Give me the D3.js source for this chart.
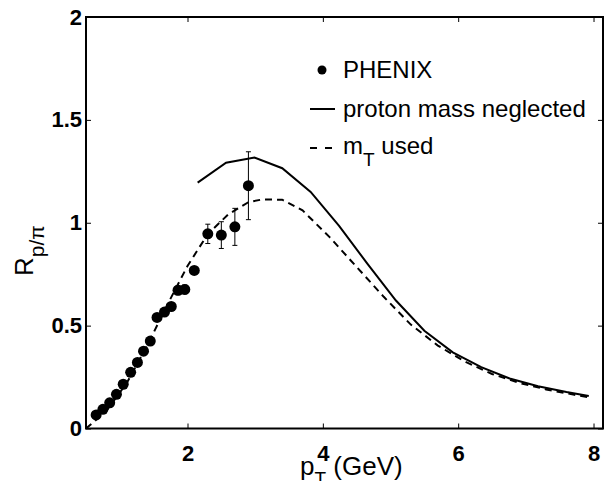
<!DOCTYPE html>
<html>
<head>
<meta charset="utf-8">
<script src="https://cdn.jsdelivr.net/npm/d3@7"></script>
<style>
  body { margin: 0; background: #fff; }
  text { font-family: "Liberation Sans", Arial, sans-serif; fill: #000; }
</style>
</head>
<body>
<div id="chart"></div>
<script>
// PHENIX p/pi ratio data
var phenixPt  = [0.65, 0.75, 0.85, 0.95, 1.05, 1.16, 1.26, 1.35, 1.45, 1.55, 1.66, 1.76, 1.86, 1.96, 2.10, 2.30, 2.50, 2.70, 2.90];
var phenixR   = [0.066, 0.093, 0.125, 0.166, 0.215, 0.273, 0.321, 0.376, 0.425, 0.54, 0.566, 0.593, 0.672, 0.676, 0.768, 0.946, 0.94, 0.98, 1.18];
var phenixErr = [0, 0, 0, 0, 0, 0, 0, 0, 0, 0, 0, 0.012, 0.022, 0.022, 0.015, 0.047, 0.065, 0.09, 0.165];

// model: proton mass neglected
var massNegPt = [2.15, 2.57, 2.99, 3.40, 3.82, 4.24, 4.66, 5.08, 5.50, 5.92, 6.34, 6.76, 7.18, 7.60, 7.93];
var massNegR  = [1.195, 1.292, 1.317, 1.265, 1.150, 0.985, 0.800, 0.622, 0.475, 0.370, 0.298, 0.243, 0.205, 0.177, 0.158];

// model: m_T used
var mtPt = [0.5, 0.8, 1.1, 1.4, 1.7, 2.0, 2.3, 2.6, 2.9, 3.1, 3.4, 3.7, 4.1, 4.5, 4.9, 5.3, 5.7, 6.1, 6.5, 6.9, 7.3, 7.7, 7.93];
var mtR  = [0, 0.085, 0.22, 0.40, 0.60, 0.79, 0.945, 1.04, 1.10, 1.113, 1.112, 1.06, 0.93, 0.785, 0.64, 0.505, 0.403, 0.325, 0.265, 0.222, 0.19, 0.165, 0.152];

var xTicks = [2, 4, 6, 8];
var yTicks = [0, 0.5, 1, 1.5, 2];

var width = 606, height = 481;
var m = { left: 86, right: 603, top: 17, bottom: 428.5 };

var svg = d3.select("#chart").append("svg")
    .attr("width", width)
    .attr("height", height);

var x = d3.scaleLinear().domain([0.5, 8.14]).range([m.left, m.right]);
var y = d3.scaleLinear().domain([0, 2]).range([m.bottom, m.top]);

// axes, ticks point inward
var xAxis = svg.append("g")
    .attr("transform", "translate(0," + m.bottom + ")")
    .call(d3.axisBottom(x).tickValues(xTicks).tickSizeInner(-5).tickSizeOuter(0).tickPadding(17).tickFormat(d3.format("")));
var yAxis = svg.append("g")
    .attr("transform", "translate(" + m.left + ",0)")
    .call(d3.axisLeft(y).tickValues(yTicks).tickSizeInner(-5).tickSizeOuter(0).tickPadding(4).tickFormat(d3.format("")));
var xTop = svg.append("g")
    .attr("transform", "translate(0," + m.top + ")")
    .call(d3.axisTop(x).tickValues(xTicks).tickSizeInner(-5).tickSizeOuter(0).tickFormat(""));
var yRight = svg.append("g")
    .attr("transform", "translate(" + m.right + ",0)")
    .call(d3.axisRight(y).tickValues(yTicks).tickSizeInner(-5).tickSizeOuter(0).tickFormat(""));

[xAxis, yAxis, xTop, yRight].forEach(function(a) {
  a.select(".domain").remove();
  a.selectAll(".tick line").attr("stroke", "#000").attr("stroke-width", 1);
  a.selectAll(".tick text")
      .style("font-family", "'Liberation Sans', Arial, sans-serif")
      .style("font-size", "22px")
      .style("font-weight", "bold")
      .attr("fill", "#000");
});

// frame
svg.append("rect")
    .attr("x", m.left).attr("y", m.top)
    .attr("width", m.right - m.left).attr("height", m.bottom - m.top)
    .attr("fill", "none")
    .attr("stroke", "#000")
    .attr("stroke-width", 2);

var line = d3.line()
    .x(function(d) { return x(d[0]); })
    .y(function(d) { return y(d[1]); });

svg.append("path")
    .datum(d3.zip(massNegPt, massNegR))
    .attr("d", line)
    .attr("fill", "none")
    .attr("stroke", "#000")
    .attr("stroke-width", 2);

svg.append("path")
    .datum(d3.zip(mtPt, mtR))
    .attr("d", line)
    .attr("fill", "none")
    .attr("stroke", "#000")
    .attr("stroke-width", 2)
    .attr("stroke-dasharray", "7,5");

// error bars
var pts = d3.range(phenixPt.length).map(function(i) {
  return { x: phenixPt[i], y: phenixR[i], e: phenixErr[i] };
});
var errs = svg.append("g").selectAll("g")
    .data(pts.filter(function(d) { return d.e > 0; }))
    .enter().append("g")
    .attr("stroke", "#000")
    .attr("stroke-width", 1);
errs.append("line")
    .attr("x1", function(d) { return x(d.x); })
    .attr("x2", function(d) { return x(d.x); })
    .attr("y1", function(d) { return y(d.y - d.e); })
    .attr("y2", function(d) { return y(d.y + d.e); });
errs.append("line")
    .attr("x1", function(d) { return x(d.x) - 2.5; })
    .attr("x2", function(d) { return x(d.x) + 2.5; })
    .attr("y1", function(d) { return y(d.y - d.e); })
    .attr("y2", function(d) { return y(d.y - d.e); });
errs.append("line")
    .attr("x1", function(d) { return x(d.x) - 2.5; })
    .attr("x2", function(d) { return x(d.x) + 2.5; })
    .attr("y1", function(d) { return y(d.y + d.e); })
    .attr("y2", function(d) { return y(d.y + d.e); });

svg.append("g").selectAll("circle")
    .data(pts)
    .enter().append("circle")
    .attr("cx", function(d) { return x(d.x); })
    .attr("cy", function(d) { return y(d.y); })
    .attr("r", 5.5)
    .attr("fill", "#000");

// legend
var legend = svg.append("g").style("font-size", "24px");
legend.append("circle").attr("cx", 322).attr("cy", 70).attr("r", 4.5).attr("fill", "#000");
legend.append("text").attr("x", 343).attr("y", 78).text("PHENIX");
legend.append("line").attr("x1", 310).attr("x2", 335).attr("y1", 109).attr("y2", 109)
    .attr("stroke", "#000").attr("stroke-width", 2);
legend.append("text").attr("x", 343).attr("y", 117).text("proton mass neglected");
legend.append("line").attr("x1", 310).attr("x2", 335).attr("y1", 148).attr("y2", 148)
    .attr("stroke", "#000").attr("stroke-width", 2).attr("stroke-dasharray", "7,8");
var mt = legend.append("text").attr("x", 343).attr("y", 154);
mt.append("tspan").text("m");
mt.append("tspan").attr("dy", 12).style("font-size", "19px").text("T");
mt.append("tspan").attr("dy", -12).text(" used");

// axis labels
var xl = svg.append("text")
    .attr("x", 300).attr("y", 475)
    .style("font-size", "26px");
xl.append("tspan").text("p");
xl.append("tspan").attr("dy", 10).style("font-size", "19px").text("T");
xl.append("tspan").attr("dy", -10).text(" (GeV)");

var yl = svg.append("text")
    .attr("transform", "translate(33,276) rotate(-90)")
    .style("font-size", "26px");
yl.append("tspan").text("R");
yl.append("tspan").attr("dy", 11).style("font-size", "21px").text("p/π");
</script>
</body>
</html>
